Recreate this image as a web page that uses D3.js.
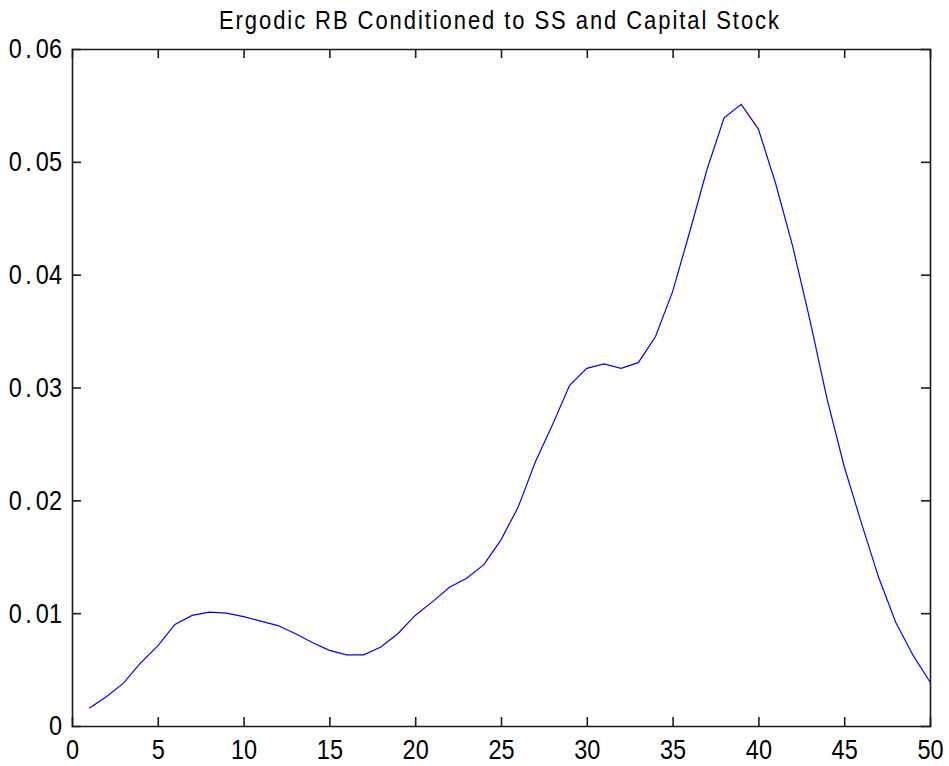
<!DOCTYPE html>
<html>
<head>
<meta charset="utf-8">
<script src="https://cdn.jsdelivr.net/npm/d3@7"></script>
<style>
  body { margin: 0; background: #fff; }
  text { font-family: "Liberation Sans", Arial, sans-serif; fill: #000; }
</style>
</head>
<body>
<div class="graph"></div>
<script>
var width = 949,
    height = 766;

var margin = {top: 49, right: 19, bottom: 40, left: 72};

// chart data
var title = "Ergodic RB Conditioned to SS and Capital Stock";
var xValues = [1, 2, 3, 4, 5, 6, 7, 8, 9, 10,
               11, 12, 13, 14, 15, 16, 17, 18, 19, 20,
               21, 22, 23, 24, 25, 26, 27, 28, 29, 30,
               31, 32, 33, 34, 35, 36, 37, 38, 39, 40,
               41, 42, 43, 44, 45, 46, 47, 48, 49, 50];
var yValues = [0.00157, 0.0026, 0.0038, 0.0056, 0.0071, 0.0090, 0.0098, 0.0101, 0.0100, 0.0097,
               0.0093, 0.0089, 0.0082, 0.0074, 0.0067, 0.0063, 0.0063, 0.0070, 0.0082, 0.0098,
               0.0110, 0.0123, 0.0131, 0.0143, 0.0165, 0.0194, 0.0234, 0.0267, 0.0302, 0.0317,
               0.0321, 0.0317, 0.0322, 0.0345, 0.0385, 0.0438, 0.0493, 0.0539, 0.0551, 0.0529,
               0.0481, 0.0425, 0.0360, 0.0290, 0.0230, 0.0180, 0.0132, 0.0092, 0.0063, 0.0039];
var xTicks = [0, 5, 10, 15, 20, 25, 30, 35, 40, 45, 50];
var yTicks = [0, 0.01, 0.02, 0.03, 0.04, 0.05, 0.06];

var svg = d3.select(".graph").append("svg")
    .attr("width", width)
    .attr("height", height);

var x = d3.scaleLinear().domain([0, 50]).range([margin.left, width - margin.right]);
var y = d3.scaleLinear().domain([0, 0.06]).range([height - margin.bottom, margin.top]);

var tickLen = 9,
    squeeze = 0.84;   // matlab's labels are narrow, squash them sideways

// axes, ticks pointing inward like matlab
svg.append("g")
    .attr("class", "x axis")
    .attr("transform", "translate(0," + y(0) + ")")
    .call(d3.axisBottom(x).tickValues(xTicks).tickSize(-tickLen).tickPadding(13)
      .tickFormat(function(d) { return d; }));

svg.append("g")
    .attr("class", "x axis top")
    .attr("transform", "translate(0," + y(0.06) + ")")
    .call(d3.axisTop(x).tickValues(xTicks).tickSize(-tickLen).tickFormat(""));

svg.append("g")
    .attr("class", "y axis")
    .attr("transform", "translate(" + x(0) + ",0)")
    .call(d3.axisLeft(y).tickValues(yTicks).tickSize(-tickLen).tickPadding(10 / squeeze)
      .tickFormat(function(d) { return d === 0 ? "0" : d3.format(".2f")(d); }));

svg.append("g")
    .attr("class", "y axis right")
    .attr("transform", "translate(" + x(50) + ",0)")
    .call(d3.axisRight(y).tickValues(yTicks).tickSize(-tickLen).tickFormat(""));

svg.selectAll(".axis path, .axis line")
    .attr("stroke", "#1a1a1a")
    .attr("stroke-width", 1.6);

svg.selectAll(".axis text")
    .style("font-size", "28px")
    .attr("fill", "#000")
    .attr("transform", "scale(" + squeeze + ",1)");

// the bitmap font has a wide decimal point: rebuild "0.0x" with some air round the dot
svg.selectAll(".y.axis .tick text").each(function(d) {
  var t = d3.select(this), s = t.text();
  if (s.indexOf(".") < 0) return;
  var parts = s.split(".");
  t.text(null);
  t.append("tspan").text(parts[0]);
  t.append("tspan").attr("dx", 3.5 / squeeze).text(".");
  t.append("tspan").attr("dx", 4 / squeeze).text(parts[1]);
});

// hide tick marks that sit on the box corners
svg.selectAll(".axis .tick line").filter(function(d) { return d === 0 || d === 50 || d === 0.06; })
    .attr("stroke-opacity", 0);

// the curve
var line = d3.line()
    .x(function(d) { return x(d[0]); })
    .y(function(d) { return y(d[1]); });

svg.append("path")
    .datum(d3.zip(xValues, yValues))
    .attr("fill", "none")
    .attr("stroke", "#0000ff")
    .attr("stroke-width", 1.2)
    .attr("d", line);

var tx = (x(0) + x(50)) / 2;
svg.append("text")
    .attr("transform", "translate(" + (tx - 2) + ",29) scale(0.88,1)")
    .attr("text-anchor", "middle")
    .attr("textLength", 560 / 0.88)
    .attr("lengthAdjust", "spacing")
    .style("font-size", "25px")
    .text(title);
</script>
</body>
</html>
